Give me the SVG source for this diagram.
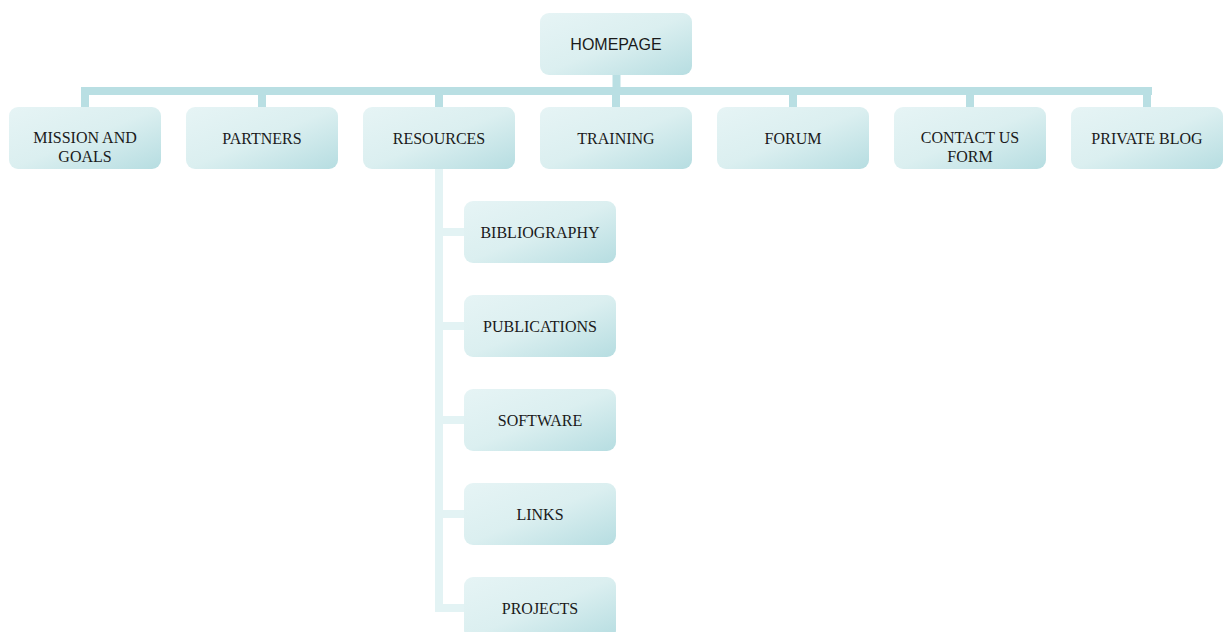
<svg xmlns="http://www.w3.org/2000/svg" width="1224" height="632" viewBox="0 0 1224 632">
<defs>
<linearGradient id="g" x1="0" y1="0" x2="1" y2="1">
<stop offset="0" stop-color="#E6F4F5"/>
<stop offset="0.5" stop-color="#DBEFF0"/>
<stop offset="1" stop-color="#B6DDE1"/>
</linearGradient>
<style>
.box{fill:url(#g);}
.t{font-family:"Liberation Serif","Times New Roman",serif;font-size:16px;fill:#1a1a1a;text-anchor:middle;}
.s{font-family:"Liberation Sans",Arial,sans-serif;font-size:16px;fill:#1a1a1a;text-anchor:middle;}
.c1{fill:#B9DFE3;}
.c2{fill:#E3F3F4;}
</style>
</defs>
<rect width="1224" height="632" fill="#FFFFFF"/>
<g id="connectors">
<rect class="c1" x="81" y="87" width="1071" height="8"/>
<rect class="c1" x="612.5" y="75" width="8" height="20"/>
<rect class="c1" x="81" y="87" width="8" height="20"/>
<rect class="c1" x="258" y="87" width="8" height="20"/>
<rect class="c1" x="435" y="87" width="8" height="20"/>
<rect class="c1" x="612" y="87" width="8" height="20"/>
<rect class="c1" x="789" y="87" width="8" height="20"/>
<rect class="c1" x="966" y="87" width="8" height="20"/>
<rect class="c1" x="1143" y="87" width="8" height="20"/>
<rect class="c2" x="435" y="169" width="8" height="443"/>
<rect class="c2" x="435" y="228" width="29" height="8"/>
<rect class="c2" x="435" y="322" width="29" height="8"/>
<rect class="c2" x="435" y="416" width="29" height="8"/>
<rect class="c2" x="435" y="510" width="29" height="8"/>
<rect class="c2" x="435" y="604" width="29" height="8"/>
</g>
<g id="homepage"><rect class="box" x="540" y="13" width="152" height="62" rx="9"/><text class="s" x="616" y="50">HOMEPAGE</text></g>
<g id="mission"><rect class="box" x="9" y="107" width="152" height="62" rx="9"/><text class="t" x="85" y="143">MISSION AND</text><text class="t" x="85" y="162">GOALS</text></g>
<g id="partners"><rect class="box" x="186" y="107" width="152" height="62" rx="9"/><text class="t" x="262" y="143.5">PARTNERS</text></g>
<g id="resources"><rect class="box" x="363" y="107" width="152" height="62" rx="9"/><text class="t" x="439" y="143.5">RESOURCES</text></g>
<g id="training"><rect class="box" x="540" y="107" width="152" height="62" rx="9"/><text class="t" x="616" y="143.5">TRAINING</text></g>
<g id="forum"><rect class="box" x="717" y="107" width="152" height="62" rx="9"/><text class="t" x="793" y="143.5">FORUM</text></g>
<g id="contact"><rect class="box" x="894" y="107" width="152" height="62" rx="9"/><text class="t" x="970" y="143">CONTACT US</text><text class="t" x="970" y="162">FORM</text></g>
<g id="blog"><rect class="box" x="1071" y="107" width="152" height="62" rx="9"/><text class="t" x="1147" y="143.5">PRIVATE BLOG</text></g>
<g id="bibliography"><rect class="box" x="464" y="201" width="152" height="62" rx="9"/><text class="t" x="540" y="237.5">BIBLIOGRAPHY</text></g>
<g id="publications"><rect class="box" x="464" y="295" width="152" height="62" rx="9"/><text class="t" x="540" y="331.5">PUBLICATIONS</text></g>
<g id="software"><rect class="box" x="464" y="389" width="152" height="62" rx="9"/><text class="t" x="540" y="425.5">SOFTWARE</text></g>
<g id="links"><rect class="box" x="464" y="483" width="152" height="62" rx="9"/><text class="t" x="540" y="519.5">LINKS</text></g>
<g id="projects"><rect class="box" x="464" y="577" width="152" height="62" rx="9"/><text class="t" x="540" y="613.5">PROJECTS</text></g>
</svg>
